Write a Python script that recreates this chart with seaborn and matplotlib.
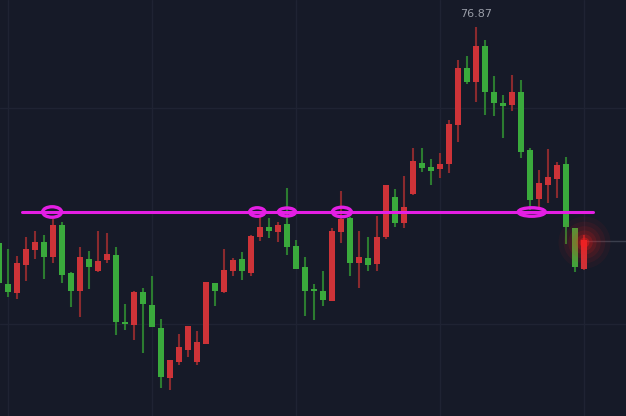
import numpy as np
import pandas as pd
import matplotlib
matplotlib.use("Agg")
import matplotlib.pyplot as plt
from matplotlib.patches import Ellipse
import seaborn as sns

# ---- data ----
opens = [72.55, 71.73, 71.55, 72.11, 72.41, 72.57, 72.27, 72.91, 71.95, 71.59,
         72.23, 71.99, 72.21, 72.31, 70.95, 70.91, 71.57, 71.31, 70.85, 69.85,
         70.17, 70.41, 70.17, 70.53, 71.75, 71.57, 71.99, 72.23, 71.95, 72.67,
         72.87, 72.77, 72.93, 72.49, 72.07, 71.63, 71.59, 71.39, 72.77, 73.05,
         72.15, 72.25, 72.13, 72.67, 73.47, 72.95, 73.53, 74.15, 74.07, 74.03,
         74.13, 74.91, 76.05, 75.77, 76.49, 75.57, 75.35, 75.31, 75.57, 74.41,
         73.43, 73.71, 73.83, 74.13, 72.85, 72.03]
closes = [71.75, 71.57, 72.15, 72.43, 72.57, 72.27, 72.91, 71.91, 71.59, 72.27,
          72.07, 72.19, 72.33, 70.97, 70.93, 71.57, 71.33, 70.87, 69.87, 70.21,
          70.47, 70.89, 70.57, 71.77, 71.59, 72.01, 72.21, 71.99, 72.69, 72.87,
          72.79, 72.91, 72.47, 72.03, 71.59, 71.59, 71.41, 72.79, 73.03, 72.15,
          72.27, 72.11, 72.67, 73.71, 72.95, 73.27, 74.19, 74.05, 73.99, 74.13,
          74.93, 76.05, 75.77, 76.49, 75.57, 75.35, 75.29, 75.57, 74.37, 73.41,
          73.75, 73.87, 74.11, 72.87, 72.07, 72.61]
highs = [72.61, 72.43, 72.29, 72.67, 72.79, 72.71, 73.03, 72.97, 71.97, 72.47,
         72.39, 72.79, 72.75, 72.47, 71.33, 71.59, 71.65, 71.89, 71.03, 70.21,
         70.73, 70.89, 70.79, 71.77, 71.75, 72.43, 72.25, 72.37, 72.71, 73.07,
         73.05, 72.97, 73.65, 72.61, 72.27, 71.73, 71.99, 72.85, 73.59, 73.07,
         72.79, 72.67, 73.09, 73.71, 73.63, 73.89, 74.45, 74.45, 74.23, 74.35,
         75.01, 76.21, 76.29, 76.87, 76.61, 75.89, 75.51, 75.91, 75.81, 74.45,
         74.01, 74.43, 74.17, 74.27, 72.85, 72.71]
lows = [71.61, 71.47, 71.43, 71.79, 72.23, 71.83, 72.15, 71.75, 71.27, 71.07,
        71.63, 71.97, 72.15, 70.71, 70.81, 70.61, 70.35, 70.87, 69.65, 69.61,
        70.11, 70.27, 70.11, 70.53, 71.29, 71.55, 71.89, 71.81, 71.89, 72.59,
        72.65, 72.57, 72.31, 72.03, 71.09, 71.01, 71.29, 71.39, 72.55, 71.89,
        71.65, 71.99, 71.99, 72.63, 72.87, 72.85, 73.51, 73.97, 73.71, 73.85,
        73.95, 74.57, 75.73, 75.37, 75.11, 75.09, 74.65, 75.19, 74.25, 73.21,
        73.27, 73.35, 73.45, 72.53, 71.97, 72.01]

level_price = 73.17                        # horizontal support/resistance line
touch_idx = [5.9, 28.7, 32.0, 38.1, 59.2]  # circled touches (candle positions)
touch_w = [2.1, 1.7, 1.9, 2.1, 3.0]
touch_h = [0.21, 0.17, 0.16, 0.19, 0.17]

BG = "#161a28"
UP_BODY, UP_WICK = "#cd3338", "#8a2a2e"
DN_BODY, DN_WICK = "#3aaa3c", "#2c7c30"
MAG = "#e41ee4"

sns.set_theme(style="dark", rc={"axes.facecolor": BG, "figure.facecolor": BG})

df = pd.DataFrame({"open": opens, "high": highs, "low": lows, "close": closes})
df["i"] = np.arange(len(df))
df["up"] = df["close"] >= df["open"]

fig = plt.figure(figsize=(6.26, 4.16), dpi=100)
ax = fig.add_axes([0, 0, 1, 1])
ax.set_facecolor(BG)

# grid
for gx in [1, 17, 33, 49, 65]:
    ax.axvline(gx, color="#1f2333", lw=1, zorder=0)
for gy in [75.25, 70.93]:
    ax.axhline(gy, color="#1f2333", lw=1, zorder=0)

# wicks
ax.vlines(df["i"], df["low"], df["high"],
          colors=[UP_WICK if u else DN_WICK for u in df["up"]], lw=1.5, zorder=2)
# bodies
bottoms = np.minimum(df["open"], df["close"])
heights = np.maximum(np.abs(df["close"] - df["open"]), 0.03)
ax.bar(df["i"], heights, bottom=bottoms, width=0.72,
       color=[UP_BODY if u else DN_BODY for u in df["up"]], linewidth=0, zorder=3)

# last price line + glow
last = df.iloc[-1]
ax.plot([last["i"], 80], [last["close"] - 0.02] * 2, color="#3a3f4d", lw=1, zorder=1)
for s, a in zip([1400, 900, 550, 300, 140, 50], [0.05, 0.07, 0.09, 0.12, 0.18, 0.4]):
    sns.scatterplot(x=[last["i"]], y=[last["close"] - 0.04], s=s, color="#ff1a1a",
                    alpha=a, linewidth=0, ax=ax, zorder=4, legend=False)

# level line and circled touches
ax.plot([2.55, 66.0], [level_price, level_price], color=MAG, lw=2.2, zorder=5)
for cx, w, h in zip(touch_idx, touch_w, touch_h):
    ax.add_patch(Ellipse((cx, level_price), w, h, fill=False, edgecolor=MAG,
                         lw=2.4, zorder=6))

# max label
imax = int(df["high"].idxmax())
ax.text(imax, df["high"].max() + 0.15, f"{df['high'].max():.2f}", ha="center",
        va="bottom", color="#9a9ea8", fontsize=8, family="DejaVu Sans")

ax.set_xlim(0.111, 69.67)
ax.set_ylim(69.09, 77.41)
ax.set_xticks([])
ax.set_yticks([])
for sp in ax.spines.values():
    sp.set_visible(False)

fig.savefig("out.png", dpi=100, facecolor=BG)
